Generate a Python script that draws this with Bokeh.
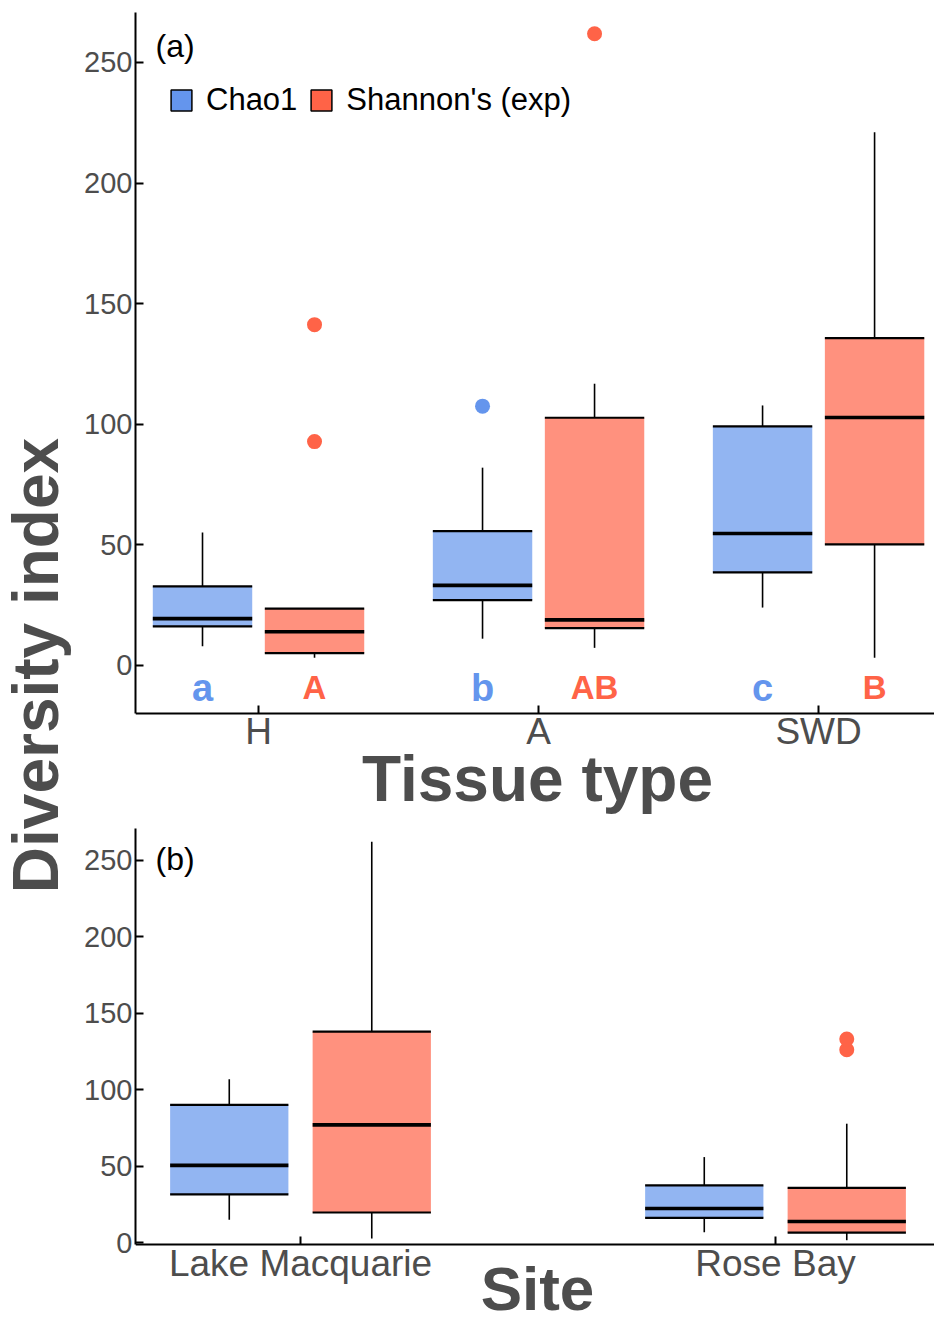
import math
from bokeh.plotting import figure
from bokeh.models import (ColumnDataSource, Range1d, FixedTicker, Label, Legend,
                          LegendItem)
from bokeh.layouts import row, column
from bokeh.transform import dodge
from bokeh.core.properties import value
from bokeh.embed import file_html
from bokeh.resources import INLINE

# ---------------- data ----------------
tissue = ["H", "A", "SWD"]
# five-number summaries: lower whisker, Q1, median, Q3, upper whisker
chao_t_lo = [8.0, 11.1, 24.0]
chao_t_q1 = [16.2, 27.1, 38.6]
chao_t_med = [19.4, 33.2, 54.7]
chao_t_q3 = [32.8, 55.7, 99.1]
chao_t_hi = [55.1, 82.0, 107.8]
chao_t_out_cat = ["A"]
chao_t_out_val = [107.5]

shan_t_lo = [3.2, 7.3, 3.2]
shan_t_q1 = [5.1, 15.5, 50.2]
shan_t_med = [14.0, 18.9, 102.8]
shan_t_q3 = [23.6, 102.7, 135.7]
shan_t_hi = [23.6, 116.8, 221.1]
shan_t_out_cat = ["H", "H", "A"]
shan_t_out_val = [141.3, 92.8, 261.9]

chao_letters = ["a", "b", "c"]
shan_letters = ["A", "AB", "B"]

site = ["Lake Macquarie", "Rose Bay"]
chao_s_lo = [15.1, 7.0]
chao_s_q1 = [31.7, 16.4]
chao_s_med = [50.7, 22.5]
chao_s_q3 = [90.2, 37.6]
chao_s_hi = [107.0, 56.1]

shan_s_lo = [2.9, 1.8]
shan_s_q1 = [19.9, 6.8]
shan_s_med = [77.1, 14.0]
shan_s_q3 = [138.0, 36.0]
shan_s_hi = [262.0, 77.9]
shan_s_out_cat = ["Rose Bay", "Rose Bay"]
shan_s_out_val = [126.2, 133.2]

y_ticks = [0, 50, 100, 150, 200, 250]

# ---------------- style ----------------
BLUE = "cornflowerblue"
RED = "tomato"
FONT = "Liberation Sans"
TICK_COL = "#4D4D4D"
TITLE_COL = "#4D4D4D"
LEFT_W = 78
TOTAL_W = 934


def box_source(cats, lo, q1, med, q3, hi):
    return ColumnDataSource(dict(xpos=[i + 1 for i in range(len(cats))],
                                 lo=lo, q1=q1, med=med, q3=q3, hi=hi))


def out_source(cats, out_cat, out_val):
    return ColumnDataSource(dict(xpos=[cats.index(c) + 1 for c in out_cat], y=out_val))


def draw_boxes(p, src, off, w, color):
    p.vbar(x=dodge("xpos", off), width=w, bottom="q1", top="q3", source=src,
           fill_color=color, fill_alpha=0.7, line_color=None)
    p.segment(x0=dodge("xpos", off), x1=dodge("xpos", off), y0="q3", y1="hi",
              source=src, line_color="black", line_width=1.6)
    p.segment(x0=dodge("xpos", off), x1=dodge("xpos", off), y0="lo", y1="q1",
              source=src, line_color="black", line_width=1.6)
    for col, lw in (("q1", 2.2), ("q3", 2.2), ("med", 3.6)):
        p.segment(x0=dodge("xpos", off - w / 2), x1=dodge("xpos", off + w / 2),
                  y0=col, y1=col, source=src, line_color="black", line_width=lw)
    # hidden renderer used only for the legend swatch
    return p.vbar(x=dodge("xpos", off), width=w, bottom="q1", top="q3", source=src,
                  fill_color=color, line_color="black", line_width=1.5, visible=False)


def style(p, cats, axis_at, y_top, title, title_y, title_size):
    p.xgrid.visible = False
    p.ygrid.visible = False
    p.outline_line_color = None
    p.background_fill_color = "white"
    p.border_fill_color = "white"
    for ax in (p.xaxis[0], p.yaxis[0]):
        ax.axis_line_color = "black"
        ax.axis_line_width = 2
        ax.major_tick_line_color = "black"
        ax.major_tick_line_width = 2
        ax.major_tick_in = 8
        ax.major_tick_out = 0
        ax.minor_tick_line_color = None
        ax.major_label_text_font = FONT
        ax.major_label_text_color = TICK_COL
    p.yaxis.ticker = FixedTicker(ticks=y_ticks)
    p.yaxis.major_label_text_font_size = "29px"
    p.yaxis.major_label_standoff = 3
    p.yaxis.bounds = (axis_at, y_top)
    p.xaxis.ticker = FixedTicker(ticks=[i + 1 for i in range(len(cats))])
    p.xaxis.major_label_overrides = {i + 1: c for i, c in enumerate(cats)}
    p.xaxis.major_label_text_font_size = "37px"
    p.xaxis.major_label_standoff = -2
    # x axis pinned inside the frame, so the bold title can sit below it freely
    p.xaxis.fixed_location = axis_at
    p.add_layout(Label(x=402, y=title_y, x_units="screen", y_units="screen", text=title,
                       text_align="center", text_baseline="top",
                       text_font=FONT, text_font_style="bold", text_font_size=title_size,
                       text_color=TITLE_COL))


# ---------------- panel (a) ----------------
Y1_AXIS, Y1_TOP = -19.9, 270.7
p1 = figure(width=TOTAL_W - LEFT_W, height=815, output_backend="svg", toolbar_location=None,
            x_range=Range1d(0.5607, 3.414), y_range=Range1d(-62.2, Y1_TOP),
            min_border_left=57, min_border_right=0, min_border_top=12, min_border_bottom=0)
style(p1, tissue, Y1_AXIS, Y1_TOP, "Tissue type", 73, "64px")

src_ct = box_source(tissue, chao_t_lo, chao_t_q1, chao_t_med, chao_t_q3, chao_t_hi)
src_st = box_source(tissue, shan_t_lo, shan_t_q1, shan_t_med, shan_t_q3, shan_t_hi)
rb = draw_boxes(p1, src_ct, -0.2, 0.355, BLUE)
rr = draw_boxes(p1, src_st, 0.2, 0.355, RED)
p1.scatter(x=dodge("xpos", -0.2), y="y", source=out_source(tissue, chao_t_out_cat, chao_t_out_val),
           size=15, fill_color=BLUE, line_color=None)
p1.scatter(x=dodge("xpos", 0.2), y="y", source=out_source(tissue, shan_t_out_cat, shan_t_out_val),
           size=15, fill_color=RED, line_color=None)

letter_y = -9.2
p1.text(x=dodge("xpos", -0.2), y=letter_y, text="t",
        source=ColumnDataSource(dict(xpos=[1, 2, 3], t=chao_letters)),
        text_font=value(FONT), text_font_style="bold", text_font_size=value("38px"),
        text_color=BLUE, text_align="center", text_baseline="alphabetic")
p1.text(x=dodge("xpos", 0.2), y=letter_y, text="t",
        source=ColumnDataSource(dict(xpos=[1, 2, 3], t=shan_letters)),
        text_font=value(FONT), text_font_style="bold", text_font_size=value("33px"),
        text_color=RED, text_align="center", text_baseline="alphabetic")

p1.add_layout(Label(x=20, y=788, x_units="screen", y_units="screen", text="(a)",
                    text_font=FONT, text_font_size="32px", text_color="black",
                    text_baseline="top"))

legend = Legend(items=[LegendItem(label="Chao1", renderers=[rb]),
                       LegendItem(label="Shannon's (exp)", renderers=[rr])],
                orientation="horizontal", location=(33, 697),
                glyph_width=26, glyph_height=26, label_standoff=12, spacing=11,
                padding=0, margin=0, label_text_font=FONT, label_text_font_size="31px",
                label_text_color="black", background_fill_alpha=0, border_line_alpha=0,
                label_height=30)
p1.add_layout(legend, "center")

# ---------------- panel (b) ----------------
Y2_AXIS, Y2_TOP = -1.0, 270.7
p2 = figure(width=TOTAL_W - LEFT_W, height=510, output_backend="svg", toolbar_location=None,
            x_range=Range1d(0.6526, 2.3347), y_range=Range1d(-53.9, Y2_TOP),
            min_border_left=57, min_border_right=0, min_border_top=13, min_border_bottom=0)
style(p2, site, Y2_AXIS, Y2_TOP, "Site", 72, "62px")

src_cs = box_source(site, chao_s_lo, chao_s_q1, chao_s_med, chao_s_q3, chao_s_hi)
src_ss = box_source(site, shan_s_lo, shan_s_q1, shan_s_med, shan_s_q3, shan_s_hi)
draw_boxes(p2, src_cs, -0.15, 0.249, BLUE)
draw_boxes(p2, src_ss, 0.15, 0.249, RED)
p2.scatter(x=dodge("xpos", 0.15), y="y", source=out_source(site, shan_s_out_cat, shan_s_out_val),
           size=15, fill_color=RED, line_color=None)
p2.add_layout(Label(x=20, y=485, x_units="screen", y_units="screen", text="(b)",
                    text_font=FONT, text_font_size="32px", text_color="black",
                    text_baseline="top"))

# ---------------- shared y label ----------------
p0 = figure(width=LEFT_W, height=1325, output_backend="svg", toolbar_location=None,
            x_range=Range1d(0, 1), y_range=Range1d(0, 1),
            min_border_left=0, min_border_right=0, min_border_top=0, min_border_bottom=0)
p0.axis.visible = False
p0.grid.visible = False
p0.outline_line_color = None
p0.add_layout(Label(x=35, y=660, x_units="screen", y_units="screen", text="Diversity index",
                    angle=math.pi / 2, text_align="center", text_baseline="middle",
                    text_font=FONT, text_font_style="bold", text_font_size="64px",
                    text_color=TITLE_COL))

layout = row(p0, column(p1, p2))
open("out.html", "w").write(file_html(layout, INLINE))
